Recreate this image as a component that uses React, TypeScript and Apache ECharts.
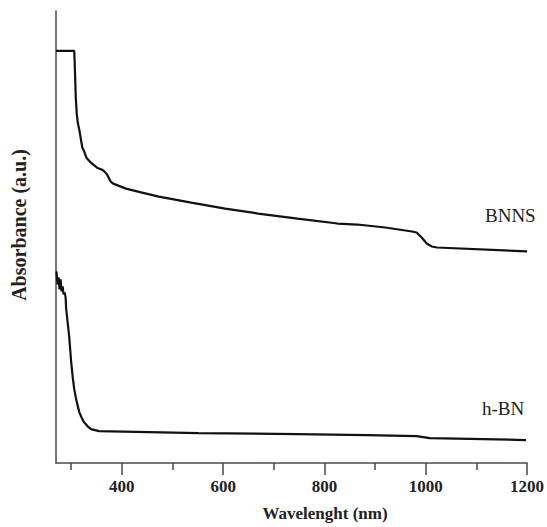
import React, { useEffect, useRef } from "react";
import * as echarts from "echarts";

const wavelengthBNNS = [270, 306, 307, 309, 311, 313, 316, 322, 325, 330, 339, 351, 361, 366, 371, 375, 378, 383, 388, 408, 440, 473, 537, 604, 669, 747, 826, 865, 920, 973, 982, 992, 1002, 1012, 1022, 1200];
const absorbanceBNNS = [413, 413, 400, 367, 350, 341, 334, 316, 313, 306, 301, 296, 294, 292, 289, 285, 282, 280, 279, 275, 271, 267, 261, 255, 250, 245, 240, 239, 236, 232, 231, 226, 220, 217, 216, 212];

const wavelengthHBN = [271, 273, 275, 277, 279, 281, 283, 285, 287, 289, 290, 293, 296, 300, 303, 306, 309, 312, 316, 320, 325, 332, 339, 355, 453, 551, 747, 884, 982, 1008, 1198];
const absorbanceHBN = [192, 179, 186, 174, 184, 172, 177, 169, 171, 166, 155, 141, 127, 101, 86, 74, 66, 59, 51, 46, 41, 37, 34, 32, 31, 30, 29, 28, 27, 25, 23];

const majorTicks = [400, 600, 800, 1000, 1200];
const minorTicks = [300, 500, 700, 900, 1100];

const seriesNames = ["BNNS", "h-BN"];

export default function App() {
  const ref = useRef<HTMLDivElement>(null);
  useEffect(() => {
    if (!ref.current) return;
    const chart = echarts.init(ref.current, null, { renderer: "svg" });
    const serif = "Times New Roman, Liberation Serif, serif";
    const axisColor = "#4a4a4a";
    chart.setOption({
      animation: false,
      backgroundColor: "#ffffff",
      textStyle: { fontFamily: serif },
      grid: { left: 56, right: 16, top: 11, bottom: 64 },
      xAxis: [
        {
          type: "value",
          min: 270,
          max: 1200,
          name: "Wavelenght (nm)",
          nameLocation: "middle",
          nameGap: 42,
          nameTextStyle: {
            fontFamily: serif,
            fontWeight: "bold",
            fontSize: 17,
            color: "#222",
            padding: [0, 0, 0, 67],
          },
          axisLine: { show: true, onZero: false, lineStyle: { color: axisColor, width: 1.5 } },
          axisTick: { show: true, length: 12, customValues: majorTicks, lineStyle: { color: axisColor, width: 1.5 } },
          axisLabel: {
            customValues: majorTicks,
            formatter: (v: number) => String(v),
            margin: 15,
            fontFamily: serif,
            fontWeight: "bold",
            fontSize: 17,
            color: "#222",
          },
          splitLine: { show: false },
        },
        {
          type: "value",
          min: 270,
          max: 1200,
          position: "bottom",
          axisLine: { show: false },
          axisTick: { show: true, length: 7, customValues: minorTicks, lineStyle: { color: axisColor, width: 1.5 } },
          axisLabel: { show: false },
          splitLine: { show: false },
        },
      ],
      yAxis: {
        type: "value",
        min: 0,
        max: 453,
        name: "Absorbance (a.u.)",
        nameLocation: "middle",
        nameGap: 27,
        nameTextStyle: {
          fontFamily: serif,
          fontWeight: "bold",
          fontSize: 20,
          color: "#222",
          padding: [0, 0, 0, 24],
        },
        axisLine: { show: true, onZero: false, lineStyle: { color: axisColor, width: 1.5 } },
        axisTick: { show: false },
        axisLabel: { show: false },
        splitLine: { show: false },
      },
      series: [
        {
          name: seriesNames[0],
          type: "line",
          xAxisIndex: 0,
          data: wavelengthBNNS.map((w, i) => [w, absorbanceBNNS[i]]),
          showSymbol: false,
          smooth: false,
          lineStyle: { color: "#111", width: 2.2 },
        },
        {
          name: seriesNames[1],
          type: "line",
          xAxisIndex: 0,
          data: wavelengthHBN.map((w, i) => [w, absorbanceHBN[i]]),
          showSymbol: false,
          smooth: false,
          lineStyle: { color: "#111", width: 2.2 },
        },
      ],
      graphic: [
        {
          type: "text",
          left: 485,
          top: 206,
          style: { text: seriesNames[0], fontFamily: serif, fontSize: 19, fill: "#222" },
        },
        {
          type: "text",
          left: 482,
          top: 399,
          style: { text: seriesNames[1], fontFamily: serif, fontSize: 19, fill: "#222" },
        },
      ],
    });
    return () => chart.dispose();
  }, []);
  return <div ref={ref} style={{ width: 547, height: 527, position: "absolute", left: 0, top: 0 }} />;
}
